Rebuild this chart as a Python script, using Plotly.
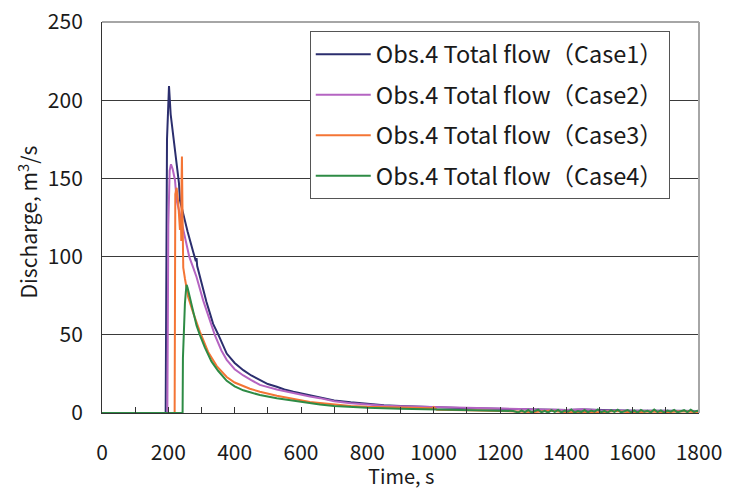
import plotly.graph_objects as go

# ---- data ----
series_names = [
    "Obs.4 Total flow（Case1）",
    "Obs.4 Total flow（Case2）",
    "Obs.4 Total flow（Case3）",
    "Obs.4 Total flow（Case4）",
]

case1_t = [0, 192, 196, 202, 207, 212, 217, 222, 227, 232, 235, 242, 250, 258, 265, 275, 283, 285, 287,
           295, 305, 315, 325, 335, 351, 365, 376, 400, 426, 450, 476, 500, 527, 550, 577, 600, 627, 657,
           700, 750, 800, 850, 900, 950, 995, 1000, 1050, 1100, 1150, 1190, 1200, 1300, 1400, 1450, 1500,
           1520, 1600, 1700, 1800]
case1_q = [0, 0, 175, 209, 191, 182, 173, 168, 157, 147, 136, 129, 123, 116, 110, 103, 97, 99, 94,
           87, 78, 71, 64, 57, 50, 43, 38, 32, 27.4, 24, 21, 18.5, 16.8, 15, 13.6, 12.5, 11.5, 9.6,
           8, 6.8, 5.8, 5, 4.5, 4.1, 3.9, 3.4, 3.2, 3.0, 2.8, 2.7, 2.2, 2.0, 1.9, 2.3, 2.0,
           1.6, 1.5, 1.4, 1.3]

case2_t = [0, 197, 200, 204, 208, 213, 220, 225, 235, 250, 263, 275, 285, 305, 325, 340, 360, 376,
           400, 426, 450, 476, 527, 577, 627, 657, 700, 750, 800, 850, 900, 1000, 1100, 1200, 1300,
           1400, 1450, 1500, 1600, 1700, 1800]
case2_q = [0, 0, 120, 155, 159, 156, 149, 136, 127, 112, 100, 93, 87, 72, 59, 50, 40, 34,
           28, 24, 21, 18, 15, 12.6, 10.5, 9.5, 7.5, 6.2, 5.2, 4.6, 4.3, 3.8, 3.0, 2.6, 2.1,
           1.9, 2.4, 1.8, 1.5, 1.3, 1.2]

case3_t = [0, 219, 221, 225, 230, 235, 238, 239, 240, 241, 243, 245, 250, 260, 275, 295, 320, 346,
           376, 400, 446, 476, 527, 577, 627, 657, 700, 750, 800, 900, 995, 1000, 1010, 1100, 1200,
           1250, 1300, 1350, 1400, 1450, 1500, 1550, 1600, 1650, 1700, 1750, 1800]
case3_q = [0, 0, 140, 144, 134, 117, 124, 110, 150, 164, 123, 93, 86, 74, 64, 52, 39, 30,
           23, 19.5, 15.5, 13.6, 11, 8.8, 7, 6.4, 5.3, 4.5, 4, 3.4, 3.0, 3.8, 2.0, 1.8, 1.5,
           1.0, 0.6, 1.5, 0.5, 0.8, 0.4, 1.2, 0.3, 0.9, 0.5, 1.1, 0.4]

case4_t = [0, 243, 244, 247, 250, 253, 255, 258, 265, 275, 285, 295, 310, 330, 350, 376, 400, 426,
           476, 527, 577, 627, 657, 700, 800, 900, 1000, 1100, 1200, 1240,
           1255, 1265, 1275, 1285, 1295, 1305, 1315, 1325, 1335, 1345, 1355, 1365, 1375, 1385,
           1395, 1405, 1415, 1425, 1435, 1445, 1455, 1465, 1475, 1485, 1495, 1505, 1515, 1525,
           1535, 1545, 1555, 1565, 1575, 1585, 1595, 1605, 1615, 1625, 1635, 1645, 1655, 1665,
           1675, 1685, 1695, 1705, 1715, 1725, 1735, 1745, 1755, 1765, 1775, 1785, 1795, 1800]
case4_q = [0, 0, 35, 55, 70, 78, 82, 80, 74, 64, 56, 50, 42, 33, 27, 20.6, 17, 14.5,
           11.5, 9.5, 7.8, 6.3, 5.5, 4.5, 3.3, 2.7, 2.2, 1.8, 1.5, 1.3,
           0.3, 1.6, 0.6, 1.9, 0.4, 1.2, 2.1, 0.5, 1.4, 0.2, 1.8, 0.7, 2.0, 0.4,
           1.5, 0.8, 2.2, 0.3, 1.3, 0.6, 1.9, 0.4, 1.6, 0.9, 2.3, 0.5, 1.4, 0.3,
           1.8, 0.7, 2.1, 0.4, 1.2, 1.9, 0.5, 1.6, 0.3, 2.0, 0.8, 1.4, 0.4, 2.2,
           0.6, 1.7, 0.3, 1.5, 0.9, 2.0, 0.4, 1.3, 1.8, 0.5, 2.1, 0.7, 1.4, 1.2]

colors = ["#2B2E6E", "#B564C2", "#F47535", "#2E8B45"]

x_ticks = [0, 200, 400, 600, 800, 1000, 1200, 1400, 1600, 1800]
y_ticks = [0, 50, 100, 150, 200, 250]

x_title = "Time, s"
y_title = "Discharge, m<sup>3</sup>/s"

FONT = "Noto Sans CJK JP"

fig = go.Figure()
data = [(case1_t, case1_q), (case2_t, case2_q), (case3_t, case3_q), (case4_t, case4_q)]
for i, ((t, q), name) in enumerate(zip(data, series_names)):
    fig.add_trace(go.Scatter(
        x=t, y=q, mode="lines", name=name,
        line=dict(color=colors[i], width=2),
        legendgroup=f"g{i}",
    ))

fig.update_layout(
    width=729, height=489,
    margin=dict(l=102, r=30, t=22, b=76, autoexpand=False),
    paper_bgcolor="white", plot_bgcolor="white",
    font=dict(family=FONT, color="#1a1a1a", size=21),
    showlegend=True,
    legend=dict(
        x=0.348, y=0.976, xanchor="left", yanchor="top",
        bgcolor="white", bordercolor="#555555", borderwidth=1,
        font=dict(family=FONT, size=23.5, color="#1a1a1a"),
        tracegroupgap=7,
        itemwidth=55,
    ),
    xaxis=dict(
        range=[0, 1800], tickvals=x_ticks, ticktext=[str(v) for v in x_ticks],
        showgrid=False, zeroline=False, automargin=False,
        showline=True, linecolor="#333333", linewidth=1,
        ticks="inside", ticklen=6, tickcolor="#333333",
        minor=dict(dtick=100, tick0=0, ticks="inside", ticklen=6, tickcolor="#333333", showgrid=False),
        ticklabelstandoff=21,
        tickfont=dict(size=21),
    ),
    yaxis=dict(
        range=[0, 250], tickvals=y_ticks, ticktext=[str(v) for v in y_ticks],
        showgrid=True, gridcolor="#3a3a3a", gridwidth=1, zeroline=False, automargin=False,
        showline=True, linecolor="#333333", linewidth=1,
        ticks="", ticklabelstandoff=14,
        tickfont=dict(size=21),
    ),
    annotations=[
        dict(text=x_title, xref="paper", yref="paper", x=0.5, y=-0.161,
             xanchor="center", yanchor="middle", showarrow=False,
             font=dict(size=20, family=FONT, color="#1a1a1a")),
        dict(text=y_title, xref="paper", yref="paper", x=-0.124, y=0.49,
             xanchor="center", yanchor="middle", showarrow=False, textangle=-90,
             font=dict(size=21, family=FONT, color="#1a1a1a")),
    ],
)

# gray top and right border of the plot area
fig.add_shape(type="line", xref="paper", yref="paper", x0=0, x1=1, y0=1, y1=1,
              line=dict(color="#A6A6A6", width=2), layer="above")
fig.add_shape(type="line", xref="paper", yref="paper", x0=1, x1=1, y0=0, y1=1,
              line=dict(color="#A6A6A6", width=2), layer="above")

fig.write_html("out.html")
